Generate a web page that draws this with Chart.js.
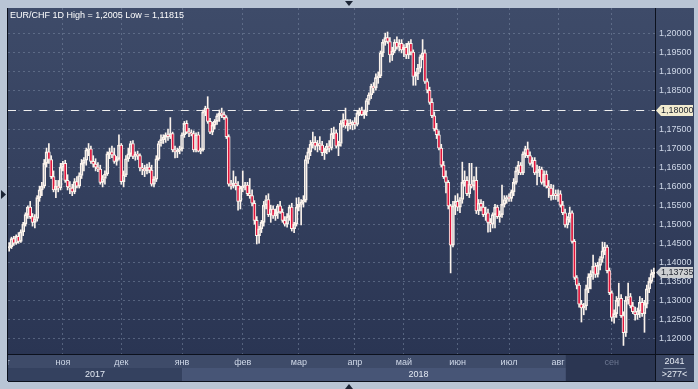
<!DOCTYPE html>
<html lang="ru">
<head>
<meta charset="UTF-8">
<title>EUR/CHF 1D</title>
<script src="https://cdn.jsdelivr.net/npm/chart.js"></script>
<style>
  html, body { margin: 0; padding: 0; background: #b9c5d5; }
  #wrap { width: 698px; height: 389px; }
</style>
</head>
<body>
<div id="wrap"><canvas id="chart" width="698" height="389"></canvas></div>
<script>
// months on the time axis and how many daily bars fall in each
const monthNames = ['окт', 'ноя', 'дек', 'янв', 'фев', 'мар', 'апр', 'май', 'июн', 'июл', 'авг', 'сен'];
const monthBars = [23, 25, 26, 26, 24, 24, 21, 23, 22, 21, 23, 19];
const yearNames = ['2017', '2018'];
const yearFirstMonth = [0, 3];

// EUR/CHF daily candles
const open = [
  1.1438,1.1441,1.1462,1.1450,1.1468,1.1455,1.1480,1.1500,1.1525,1.1545,
  1.1520,1.1505,1.1515,1.1570,1.1590,1.1600,1.1660,1.1690,1.1670,1.1625,
  1.1590,1.1600,1.1595,1.1650,1.1660,1.1615,1.1598,1.1595,1.1585,1.1612,
  1.1600,1.1628,1.1660,1.1668,1.1695,1.1698,1.1665,1.1658,1.1650,1.1645,
  1.1610,1.1620,1.1632,1.1685,1.1690,1.1682,1.1665,1.1672,1.1708,1.1612,
  1.1630,1.1672,1.1685,1.1712,1.1678,1.1684,1.1680,1.1648,1.1645,1.1640,
  1.1650,1.1642,1.1605,1.1618,1.1672,1.1712,1.1722,1.1728,1.1735,1.1730,
  1.1738,1.1695,1.1690,1.1694,1.1698,1.1735,1.1765,1.1742,1.1740,1.1738,
  1.1695,1.1735,1.1692,1.1696,1.1795,1.1805,1.1770,1.1742,1.1760,1.1770,
  1.1785,1.1792,1.1788,1.1780,1.1730,1.1605,1.1600,1.1608,1.1602,1.1560,
  1.1595,1.1600,1.1603,1.1580,1.1575,1.1555,1.1510,1.1470,1.1488,1.1505,
  1.1550,1.1565,1.1525,1.1540,1.1522,1.1530,1.1548,1.1532,1.1510,1.1500,
  1.1520,1.1545,1.1488,1.1500,1.1545,1.1552,1.1558,1.1563,1.1670,1.1690,
  1.1710,1.1715,1.1705,1.1712,1.1708,1.1688,1.1695,1.1705,1.1700,1.1738,
  1.1740,1.1705,1.1712,1.1765,1.1775,1.1758,1.1765,1.1760,1.1768,1.1762,
  1.1792,1.1800,1.1788,1.1795,1.1825,1.1840,1.1862,1.1858,1.1885,1.1890,
  1.1950,1.1978,1.1990,1.1980,1.1945,1.1955,1.1978,1.1965,1.1975,1.1958,
  1.1965,1.1945,1.1975,1.1952,1.1888,1.1895,1.1910,1.1940,1.1950,1.1875,
  1.1852,1.1820,1.1785,1.1750,1.1735,1.1700,1.1655,1.1625,1.1610,1.1548,
  1.1445,1.1548,1.1560,1.1545,1.1565,1.1610,1.1615,1.1580,1.1605,1.1600,
  1.1615,1.1535,1.1555,1.1545,1.1525,1.1530,1.1505,1.1500,1.1525,1.1545,
  1.1520,1.1525,1.1552,1.1565,1.1570,1.1568,1.1585,1.1610,1.1640,1.1655,
  1.1635,1.1685,1.1698,1.1680,1.1660,1.1668,1.1635,1.1640,1.1645,1.1610,
  1.1632,1.1600,1.1595,1.1575,1.1580,1.1575,1.1580,1.1550,1.1530,1.1498,
  1.1515,1.1530,1.1455,1.1360,1.1340,1.1290,1.1280,1.1285,1.1330,1.1362,
  1.1372,1.1390,1.1368,1.1392,1.1410,1.1430,1.1440,1.1378,1.1320,1.1255,
  1.1265,1.1300,1.1305,1.1260,1.1215,1.1300,1.1310,1.1285,1.1270,1.1262,
  1.1272,1.1295,1.1265,1.1290,1.1330,1.1350,1.1370
];
const high = [
  1.1452,1.1466,1.1468,1.1472,1.1478,1.1485,1.1505,1.1530,1.1548,1.1560,
  1.1528,1.1525,1.1575,1.1600,1.1610,1.1670,1.1700,1.1712,1.1680,1.1640,
  1.1615,1.1615,1.1660,1.1665,1.1668,1.1630,1.1612,1.1605,1.1620,1.1625,
  1.1635,1.1670,1.1675,1.1700,1.1712,1.1705,1.1680,1.1672,1.1662,1.1655,
  1.1628,1.1640,1.1690,1.1700,1.1705,1.1700,1.1678,1.1735,1.1712,1.1640,
  1.1680,1.1700,1.1718,1.1720,1.1690,1.1692,1.1685,1.1660,1.1655,1.1658,
  1.1662,1.1655,1.1625,1.1680,1.1718,1.1735,1.1735,1.1740,1.1750,1.1780,
  1.1742,1.1705,1.1700,1.1705,1.1740,1.1770,1.1772,1.1752,1.1748,1.1745,
  1.1740,1.1742,1.1700,1.1800,1.1810,1.1835,1.1778,1.1768,1.1775,1.1790,
  1.1800,1.1805,1.1795,1.1785,1.1735,1.1615,1.1640,1.1625,1.1612,1.1600,
  1.1640,1.1610,1.1610,1.1620,1.1590,1.1562,1.1520,1.1495,1.1510,1.1560,
  1.1575,1.1580,1.1550,1.1548,1.1540,1.1552,1.1560,1.1540,1.1520,1.1528,
  1.1550,1.1555,1.1505,1.1569,1.1570,1.1565,1.1575,1.1680,1.1700,1.1720,
  1.1742,1.1730,1.1720,1.1730,1.1718,1.1700,1.1712,1.1720,1.1752,1.1755,
  1.1748,1.1718,1.1772,1.1790,1.1805,1.1775,1.1775,1.1772,1.1780,1.1798,
  1.1805,1.1808,1.1800,1.1830,1.1845,1.1868,1.1872,1.1895,1.1900,1.1955,
  1.1985,1.2002,1.2005,1.1990,1.1965,1.1985,1.1992,1.1985,1.1985,1.1972,
  1.1975,1.1980,1.1985,1.1958,1.1900,1.1920,1.1945,1.1985,1.1958,1.1882,
  1.1860,1.1830,1.1795,1.1765,1.1745,1.1710,1.1665,1.1640,1.1615,1.1552,
  1.1560,1.1575,1.1580,1.1570,1.1663,1.1640,1.1625,1.1660,1.1660,1.1625,
  1.1650,1.1565,1.1565,1.1560,1.1545,1.1540,1.1515,1.1530,1.1552,1.1550,
  1.1535,1.1603,1.1575,1.1575,1.1580,1.1590,1.1620,1.1650,1.1665,1.1662,
  1.1690,1.1705,1.1716,1.1690,1.1675,1.1675,1.1655,1.1652,1.1650,1.1640,
  1.1640,1.1615,1.1605,1.1603,1.1590,1.1590,1.1588,1.1560,1.1540,1.1520,
  1.1545,1.1535,1.1460,1.1365,1.1345,1.1300,1.1292,1.1340,1.1370,1.1378,
  1.1419,1.1398,1.1400,1.1415,1.1453,1.1452,1.1445,1.1385,1.1325,1.1275,
  1.1310,1.1345,1.1315,1.1270,1.1310,1.1345,1.1318,1.1295,1.1282,1.1280,
  1.1310,1.1305,1.1300,1.1340,1.1360,1.1380,1.1385
];
const low = [
  1.1429,1.1436,1.1444,1.1447,1.1450,1.1452,1.1470,1.1495,1.1515,1.1515,
  1.1495,1.1490,1.1508,1.1560,1.1575,1.1595,1.1650,1.1660,1.1620,1.1585,
  1.1570,1.1585,1.1590,1.1640,1.1610,1.1590,1.1580,1.1575,1.1580,1.1595,
  1.1595,1.1620,1.1640,1.1655,1.1680,1.1660,1.1650,1.1640,1.1638,1.1605,
  1.1598,1.1605,1.1628,1.1672,1.1675,1.1660,1.1655,1.1668,1.1605,1.1598,
  1.1625,1.1665,1.1678,1.1672,1.1668,1.1670,1.1640,1.1630,1.1625,1.1632,
  1.1635,1.1600,1.1598,1.1612,1.1668,1.1705,1.1712,1.1715,1.1720,1.1725,
  1.1690,1.1674,1.1675,1.1685,1.1692,1.1728,1.1738,1.1730,1.1732,1.1690,
  1.1690,1.1690,1.1685,1.1692,1.1785,1.1765,1.1738,1.1735,1.1750,1.1762,
  1.1770,1.1780,1.1775,1.1725,1.1600,1.1592,1.1595,1.1590,1.1537,1.1540,
  1.1585,1.1590,1.1575,1.1568,1.1548,1.1500,1.1448,1.1450,1.1478,1.1495,
  1.1540,1.1520,1.1505,1.1515,1.1510,1.1515,1.1528,1.1505,1.1495,1.1492,
  1.1510,1.1482,1.1478,1.1495,1.1535,1.1498,1.1545,1.1558,1.1660,1.1680,
  1.1700,1.1695,1.1690,1.1695,1.1680,1.1670,1.1685,1.1690,1.1695,1.1725,
  1.1700,1.1680,1.1705,1.1755,1.1752,1.1745,1.1750,1.1748,1.1750,1.1758,
  1.1785,1.1785,1.1778,1.1785,1.1815,1.1830,1.1845,1.1852,1.1870,1.1885,
  1.1940,1.1970,1.1975,1.1926,1.1930,1.1950,1.1960,1.1955,1.1950,1.1940,
  1.1935,1.1935,1.1945,1.1865,1.1865,1.1880,1.1900,1.1932,1.1870,1.1845,
  1.1815,1.1780,1.1745,1.1725,1.1695,1.1650,1.1620,1.1582,1.1540,1.1372,
  1.1440,1.1525,1.1535,1.1530,1.1555,1.1600,1.1575,1.1570,1.1595,1.1590,
  1.1528,1.1525,1.1535,1.1520,1.1510,1.1479,1.1480,1.1490,1.1490,1.1515,
  1.1505,1.1518,1.1545,1.1555,1.1560,1.1560,1.1575,1.1605,1.1630,1.1630,
  1.1630,1.1675,1.1675,1.1655,1.1650,1.1630,1.1603,1.1625,1.1605,1.1600,
  1.1595,1.1570,1.1563,1.1565,1.1565,1.1560,1.1545,1.1525,1.1492,1.1490,
  1.1505,1.1450,1.1355,1.1330,1.1282,1.1243,1.1262,1.1275,1.1320,1.1330,
  1.1355,1.1360,1.1361,1.1380,1.1400,1.1420,1.1372,1.1315,1.1245,1.1240,
  1.1255,1.1285,1.1255,1.11815,1.1205,1.1290,1.1280,1.1265,1.1248,1.1250,
  1.1255,1.1258,1.1216,1.1280,1.1320,1.1345,1.1360
];
const close = [
  1.1441,1.1462,1.1450,1.1468,1.1455,1.1480,1.1500,1.1525,1.1545,1.1520,
  1.1505,1.1515,1.1570,1.1590,1.1600,1.1660,1.1690,1.1670,1.1625,1.1590,
  1.1600,1.1595,1.1650,1.1660,1.1615,1.1598,1.1595,1.1585,1.1612,1.1600,
  1.1628,1.1660,1.1668,1.1695,1.1698,1.1665,1.1658,1.1650,1.1645,1.1610,
  1.1620,1.1632,1.1685,1.1690,1.1682,1.1665,1.1672,1.1708,1.1612,1.1630,
  1.1672,1.1685,1.1712,1.1678,1.1684,1.1680,1.1648,1.1645,1.1640,1.1650,
  1.1642,1.1605,1.1618,1.1672,1.1712,1.1722,1.1728,1.1735,1.1730,1.1738,
  1.1695,1.1690,1.1694,1.1698,1.1735,1.1765,1.1742,1.1740,1.1738,1.1695,
  1.1735,1.1692,1.1696,1.1795,1.1805,1.1770,1.1742,1.1760,1.1770,1.1785,
  1.1792,1.1788,1.1780,1.1730,1.1605,1.1600,1.1608,1.1602,1.1560,1.1595,
  1.1600,1.1603,1.1580,1.1575,1.1555,1.1510,1.1470,1.1488,1.1505,1.1550,
  1.1565,1.1525,1.1540,1.1522,1.1530,1.1548,1.1532,1.1510,1.1500,1.1520,
  1.1545,1.1488,1.1500,1.1545,1.1552,1.1558,1.1563,1.1670,1.1690,1.1710,
  1.1715,1.1705,1.1712,1.1708,1.1688,1.1695,1.1705,1.1700,1.1738,1.1740,
  1.1705,1.1712,1.1765,1.1775,1.1758,1.1765,1.1760,1.1768,1.1762,1.1792,
  1.1800,1.1788,1.1795,1.1825,1.1840,1.1862,1.1858,1.1885,1.1890,1.1950,
  1.1978,1.1990,1.1980,1.1945,1.1955,1.1978,1.1965,1.1975,1.1958,1.1965,
  1.1945,1.1975,1.1952,1.1888,1.1895,1.1910,1.1940,1.1950,1.1875,1.1852,
  1.1820,1.1785,1.1750,1.1735,1.1700,1.1655,1.1625,1.1610,1.1548,1.1445,
  1.1548,1.1560,1.1545,1.1565,1.1610,1.1615,1.1580,1.1605,1.1600,1.1615,
  1.1535,1.1555,1.1545,1.1525,1.1530,1.1505,1.1500,1.1525,1.1545,1.1520,
  1.1525,1.1552,1.1565,1.1570,1.1568,1.1585,1.1610,1.1640,1.1655,1.1635,
  1.1685,1.1698,1.1680,1.1660,1.1668,1.1635,1.1640,1.1645,1.1610,1.1632,
  1.1600,1.1595,1.1575,1.1580,1.1575,1.1580,1.1550,1.1530,1.1498,1.1515,
  1.1530,1.1455,1.1360,1.1340,1.1290,1.1280,1.1285,1.1330,1.1362,1.1370,
  1.1390,1.1368,1.1392,1.1410,1.1430,1.1440,1.1378,1.1320,1.1255,1.1265,
  1.1300,1.1305,1.1260,1.1215,1.1300,1.1310,1.1285,1.1270,1.1262,1.1272,
  1.1295,1.1265,1.1290,1.1330,1.1350,1.1370,1.13735
];

const refLevel = 1.18;
const barCountText = ['2041', '>277<'];
const yMin = 1.1159, yMax = 1.2068, yStep = 0.005;

const UP_LINE = '#fbf3ec';
const DOWN_FILL = '#e0143c';
const TEXT = '#cfd8e8';
const GRID = 'rgba(120,134,160,0.55)';
const FONT = 'Liberation Sans, Arial, sans-serif';

// one label per bar, month name on the first bar of each month
const labels = [];
const monthStart = [];
monthNames.forEach((m, k) => {
  monthStart.push(labels.length);
  for (let j = 0; j < monthBars[k]; j++) labels.push(j === 0 && k > 0 ? m : '');
});

const bodies = open.map((o, i) => [o, close[i]]);
const upperWick = open.map((o, i) => [Math.max(o, close[i]), high[i]]);
const lowerWick = open.map((o, i) => [low[i], Math.min(o, close[i])]);
const bodyFill = open.map((o, i) => close[i] < o ? DOWN_FILL : 'rgba(0,0,0,0)');

const fmt = v => v.toFixed(5).replace('.', ',');

const panels = {
  id: 'panels',
  beforeDraw(chart) {
    const { ctx, chartArea: ca, scales: { x, y } } = chart;
    ctx.save();
    ctx.fillStyle = '#b9c5d5';
    ctx.fillRect(0, 0, chart.width, chart.height);
    const g = ctx.createLinearGradient(0, ca.top, 0, ca.bottom);
    g.addColorStop(0, '#3e4b69');
    g.addColorStop(1, '#2a3553');
    ctx.fillStyle = g;
    ctx.fillRect(ca.left, ca.top, y.right - ca.left, ca.bottom - ca.top);

    // time axis rows
    const rowY = x.top + 14;
    ctx.fillStyle = '#3e4b69';
    ctx.fillRect(ca.left, x.top, ca.right - ca.left, rowY - x.top);
    const yearX = yearFirstMonth.map(m => m === 0 ? ca.left : x.getPixelForValue(monthStart[m]));
    ctx.fillStyle = '#34415f';
    ctx.fillRect(ca.left, rowY, yearX[1] - ca.left, x.bottom - rowY);
    ctx.fillStyle = '#475576';
    ctx.fillRect(yearX[1], rowY, ca.right - yearX[1], x.bottom - rowY);
    // box round the current month label
    const sepX = x.getPixelForValue(monthStart[monthNames.length - 1]);
    ctx.fillStyle = '#2b3652';
    ctx.fillRect(sepX - 46, x.top, ca.right - sepX + 46, x.bottom - x.top);
    // corner box
    ctx.fillStyle = '#394562';
    ctx.fillRect(ca.right, x.top, y.right - ca.right, x.bottom - x.top);
    ctx.restore();
  },
  beforeDatasetsDraw(chart) {
    const { ctx, chartArea: ca, scales: { y } } = chart;
    const py = Math.round(y.getPixelForValue(refLevel)) + 0.5;
    ctx.save();
    ctx.strokeStyle = '#eeeeee';
    ctx.lineWidth = 1;
    ctx.setLineDash([8, 7.7]);
    ctx.beginPath();
    ctx.moveTo(ca.left, py);
    ctx.lineTo(ca.right, py);
    ctx.stroke();
    ctx.restore();
  },
  afterDraw(chart) {
    const { ctx, chartArea: ca, scales: { x, y } } = chart;
    ctx.save();
    // frame lines
    ctx.strokeStyle = '#0c111d';
    ctx.lineWidth = 1;
    ctx.beginPath();
    ctx.moveTo(ca.left - 0.5, ca.top);
    ctx.lineTo(ca.left - 0.5, x.bottom);
    ctx.moveTo(ca.left, ca.bottom + 0.5);
    ctx.lineTo(y.right, ca.bottom + 0.5);
    ctx.moveTo(ca.right + 0.5, ca.top);
    ctx.lineTo(ca.right + 0.5, x.bottom);
    ctx.moveTo(ca.left, x.bottom + 0.5);
    ctx.lineTo(y.right, x.bottom + 0.5);
    ctx.stroke();

    // title
    ctx.fillStyle = '#ffffff';
    ctx.font = '9px ' + FONT;
    ctx.textAlign = 'left';
    ctx.textBaseline = 'alphabetic';
    const hi = Math.max(...high), lo = Math.min(...low);
    ctx.fillText('EUR/CHF 1D High = ' + String(hi).replace('.', ',') + ' Low = ' + String(lo).replace('.', ','), ca.left + 2, ca.top + 10);

    // clipped label of the first (partial) month
    ctx.save();
    ctx.beginPath();
    ctx.rect(ca.left, x.top, ca.right - ca.left, 14);
    ctx.clip();
    ctx.fillStyle = TEXT;
    ctx.textAlign = 'center';
    ctx.textBaseline = 'middle';
    ctx.fillText(monthNames[0], x.getPixelForValue(-2.5), x.top + 8.4);
    ctx.restore();

    // year labels
    const bounds = yearFirstMonth.map(m => m === 0 ? ca.left : x.getPixelForValue(monthStart[m]));
    bounds.push(ca.right);
    ctx.fillStyle = '#e2e8f2';
    ctx.textAlign = 'center';
    ctx.textBaseline = 'middle';
    yearNames.forEach((yr, k) => ctx.fillText(yr, (bounds[k] + bounds[k + 1]) / 2, x.top + 21));

    // price tags
    const tag = (v, fill) => {
      const py = Math.round(y.getPixelForValue(v)) + 0.5;
      ctx.fillStyle = fill;
      ctx.beginPath();
      ctx.moveTo(ca.right + 1, py);
      ctx.lineTo(ca.right + 6, py - 5.5);
      ctx.lineTo(y.right - 1, py - 5.5);
      ctx.lineTo(y.right - 1, py + 5.5);
      ctx.lineTo(ca.right + 6, py + 5.5);
      ctx.closePath();
      ctx.fill();
      ctx.fillStyle = '#1e2430';
      ctx.textAlign = 'left';
      ctx.fillText(fmt(v), ca.right + 6, py + 0.5);
    };
    tag(refLevel, '#f2ecd0');
    tag(close[close.length - 1], '#cdcfd2');

    // bar counter box
    const cx = (ca.right + y.right) / 2;
    ctx.fillStyle = '#e6ebf3';
    ctx.textAlign = 'center';
    ctx.fillText(barCountText[0], cx, x.top + 7.5);
    ctx.fillText(barCountText[1], cx, x.top + 20.5);
    ctx.strokeStyle = '#8a97ad';
    ctx.beginPath();
    ctx.moveTo(cx - 11, x.top + 14.5);
    ctx.lineTo(cx + 11, x.top + 14.5);
    ctx.stroke();

    // little scroll arrows on the frame
    ctx.fillStyle = '#1b2435';
    const tri = pts => { ctx.beginPath(); ctx.moveTo(...pts[0]); ctx.lineTo(...pts[1]); ctx.lineTo(...pts[2]); ctx.closePath(); ctx.fill(); };
    tri([[345, 1], [353, 1], [349, 6]]);
    tri([[345, 389], [353, 389], [349, 384]]);
    tri([[1, 190], [1, 199], [6, 194.5]]);
    ctx.restore();
  }
};

new Chart(document.getElementById('chart'), {
  type: 'bar',
  data: {
    labels: labels,
    datasets: [
      {
        data: bodies,
        backgroundColor: bodyFill,
        borderColor: UP_LINE,
        borderWidth: 1,
        borderSkipped: false,
        barThickness: 3,
        grouped: false,
        order: 0
      },
      {
        data: upperWick,
        backgroundColor: UP_LINE,
        borderWidth: 0,
        barThickness: 1,
        grouped: false,
        order: 1
      },
      {
        data: lowerWick,
        backgroundColor: UP_LINE,
        borderWidth: 0,
        barThickness: 1,
        grouped: false,
        order: 1
      }
    ]
  },
  options: {
    responsive: false,
    animation: false,
    events: [],
    layout: { padding: { left: 8, top: 8, right: 4, bottom: 8 } },
    plugins: { legend: { display: false }, tooltip: { enabled: false } },
    scales: {
      x: {
        offset: true,
        grid: {
          offset: false,
          drawTicks: false,
          color: c => (c.tick && c.tick.label) ? GRID : 'rgba(0,0,0,0)'
        },
        border: { display: false, dash: [2, 3] },
        ticks: {
          autoSkip: false,
          maxRotation: 0,
          padding: 3,
          font: { family: FONT, size: 9 },
          color: c => (c.tick && c.tick.label === monthNames[monthNames.length - 1]) ? '#6c7791' : TEXT
        },
        afterFit(s) { s.height = 27; s.paddingLeft = 0; s.paddingRight = 0; }
      },
      y: {
        position: 'right',
        min: yMin,
        max: yMax,
        grid: { drawTicks: false, color: GRID },
        border: { display: false, dash: [2, 3] },
        ticks: {
          stepSize: yStep,
          includeBounds: false,
          padding: 4,
          font: { family: FONT, size: 9 },
          color: TEXT,
          callback: v => fmt(v)
        },
        afterBuildTicks(s) { s.ticks = s.ticks.filter(t => t.value <= 1.2001); },
        afterFit(s) { s.width = 39; s.paddingTop = 0; s.paddingBottom = 0; }
      }
    }
  },
  plugins: [panels]
});
</script>
</body>
</html>
